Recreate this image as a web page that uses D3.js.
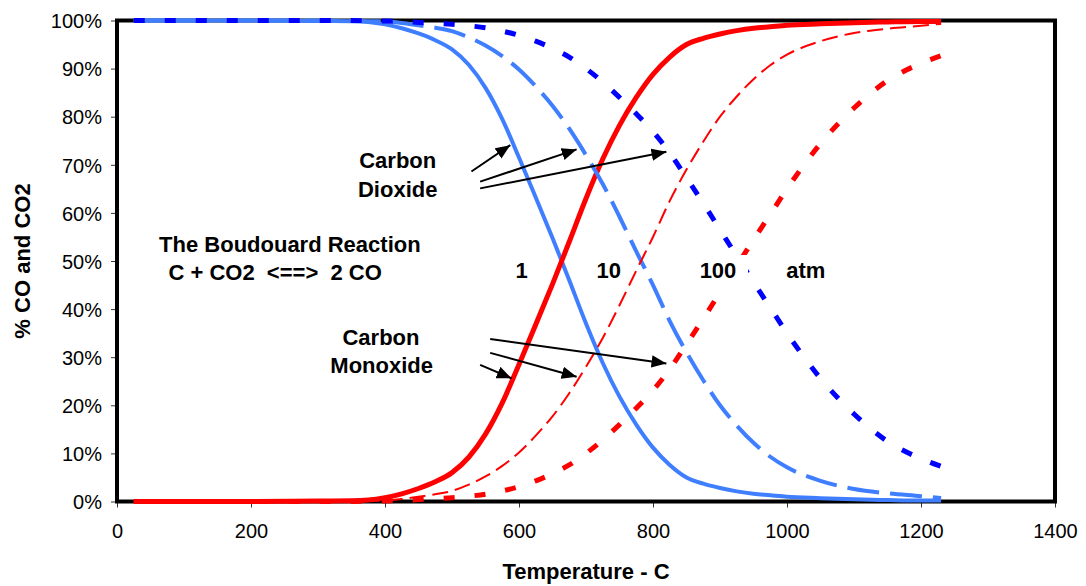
<!DOCTYPE html>
<html>
<head>
<meta charset="utf-8">
<script src="https://cdn.jsdelivr.net/npm/d3@7"></script>
<style>
  html, body { margin: 0; padding: 0; background: #fff; }
  svg { display: block; font-family: "Liberation Sans", Arial, sans-serif; }
</style>
</head>
<body>
<svg id="chart" width="1086" height="586"></svg>
<script>
// Temperature grid (deg C) shared by every series
const temperatures = [25, 100, 200, 300, 350, 375, 400, 425, 450, 475, 500, 525, 550, 575,
                      600, 625, 650, 675, 700, 725, 750, 775, 800, 825, 850, 875, 900, 925,
                      950, 975, 1000, 1050, 1100, 1150, 1200, 1230];

// Equilibrium gas composition (%) at 1, 10 and 100 atm
const co2At1   = [100, 100, 100, 99.9, 99.85, 99.7, 99.2, 98.4, 97.3, 95.9, 94.0, 90.8, 86.0, 79.5,
                  71.5, 63.2, 54.8, 46.0, 37.0, 28.8, 21.8, 16.0, 11.2, 7.6, 5.0, 3.7, 2.8, 2.1,
                  1.6, 1.3, 1.0, 0.7, 0.45, 0.3, 0.2, 0.2];
const coAt1    = [0, 0, 0, 0.1, 0.15, 0.3, 0.8, 1.6, 2.7, 4.1, 6.0, 9.2, 14.0, 20.5,
                  28.5, 36.8, 45.2, 54.0, 63.0, 71.2, 78.2, 84.0, 88.8, 92.4, 95.0, 96.3, 97.2, 97.9,
                  98.4, 98.7, 99.0, 99.3, 99.55, 99.7, 99.8, 99.8];
const co2At10  = [100, 100, 100, 100, 99.9, 99.85, 99.8, 99.5, 99.0, 98.5, 97.8, 96.5, 94.8, 92.6,
                  89.8, 86.3, 82.3, 77.5, 72.0, 66.0, 59.2, 52.0, 45.0, 37.5, 31.0, 25.2, 20.0, 15.8,
                  12.2, 9.3, 7.1, 4.3, 2.6, 1.7, 1.1, 0.7];
const coAt10   = [0, 0, 0, 0, 0.1, 0.15, 0.2, 0.5, 1.0, 1.5, 2.2, 3.5, 5.2, 7.4,
                  10.2, 13.7, 17.7, 22.5, 28.0, 34.0, 40.8, 48.0, 55.0, 62.5, 69.0, 74.8, 80.0, 84.2,
                  87.8, 90.7, 92.9, 95.7, 97.4, 98.3, 98.9, 99.3];
const co2At100 = [100, 100, 100, 100, 100, 99.95, 99.9, 99.8, 99.6, 99.4, 99.2, 98.9, 98.5, 97.8,
                  96.9, 95.7, 94.2, 92.4, 90.0, 87.2, 84.0, 80.6, 76.9, 72.5, 67.3, 62.0, 56.5, 51.0,
                  45.6, 40.3, 35.0, 25.6, 18.2, 12.5, 8.9, 7.3];
const coAt100  = [0, 0, 0, 0, 0, 0.05, 0.1, 0.2, 0.4, 0.6, 0.8, 1.1, 1.5, 2.2,
                  3.1, 4.3, 5.8, 7.6, 10.0, 12.8, 16.0, 19.4, 23.1, 27.5, 32.7, 38.0, 43.5, 49.0,
                  54.4, 59.7, 65.0, 74.4, 81.8, 87.5, 91.1, 92.7];

const xTicks = [0, 200, 400, 600, 800, 1000, 1200, 1400];
const yTicks = [0, 10, 20, 30, 40, 50, 60, 70, 80, 90, 100];

const xTitle = "Temperature - C";
const yTitle = "% CO and CO2";

// Draw order and styling for each curve
const seriesList = [
  { name: "CO2 1 atm",   values: co2At1,   color: "#3f7fff", width: 4,   dash: null },
  { name: "CO 1 atm",    values: coAt1,    color: "#ff0000", width: 5,   dash: null },
  { name: "CO2 10 atm",  values: co2At10,  color: "#3f7fff", width: 4,   dash: "32 11" },
  { name: "CO 10 atm",   values: coAt10,   color: "#ff0000", width: 2,   dash: "16 7" },
  { name: "CO2 100 atm", values: co2At100, color: "#0000ff", width: 5,   dash: "11 20" },
  { name: "CO 100 atm",  values: coAt100,  color: "#ff0000", width: 5,   dash: "11 20" }
];

// Text annotations placed in data units (temperature, fraction)
const notes = [
  { text: "Carbon",                  t: 419, p: 0.693 },
  { text: "Dioxide",                 t: 419, p: 0.634 },
  { text: "The Boudouard Reaction",  t: 258, p: 0.519 },
  { text: "C + CO2  <==>  2 CO",     t: 236, p: 0.4605 },
  { text: "1",                       t: 604, p: 0.4647 },
  { text: "10",                      t: 734, p: 0.4647 },
  { text: "100",                     t: 897, p: 0.4647, boxed: true },
  { text: "atm",                     t: 1028, p: 0.4647 },
  { text: "Carbon",                  t: 394, p: 0.3254 },
  { text: "Monoxide",                t: 395, p: 0.2678 }
];

// Pointer arrows from the labels to the curves
const arrows = [
  { t0: 529, p0: 0.686, t1: 587, p1: 0.741 },
  { t0: 542, p0: 0.665, t1: 686, p1: 0.732 },
  { t0: 542, p0: 0.651, t1: 820, p1: 0.727 },
  { t0: 542, p0: 0.284, t1: 589, p1: 0.256 },
  { t0: 557, p0: 0.309, t1: 686, p1: 0.2595 },
  { t0: 557, p0: 0.338, t1: 820, p1: 0.287 }
];

const svg = d3.select("#chart");
const plot = { left: 117, right: 1055, top: 20.5, bottom: 501.5 };

const x = d3.scaleLinear().domain([0, 1400]).range([plot.left, plot.right]);
const y = d3.scaleLinear().domain([0, 1]).range([plot.bottom, plot.top]);

// Axes
const xAxis = d3.axisBottom(x).tickValues(xTicks).tickSize(6).tickSizeOuter(0).tickPadding(16)
  .tickFormat(d3.format("d"));
const yAxis = d3.axisLeft(y).tickValues(yTicks.map(v => v / 100)).tickSize(6).tickSizeOuter(0)
  .tickPadding(9).tickFormat(d3.format(".0%"));

const gx = svg.append("g").attr("transform", `translate(0,${plot.bottom})`).call(xAxis);
const gy = svg.append("g").attr("transform", `translate(${plot.left},0)`).call(yAxis);
[gx, gy].forEach(g => {
  g.select(".domain").remove();
  g.selectAll(".tick line").attr("stroke", "#333").attr("stroke-width", 1);
  g.selectAll(".tick text").attr("fill", "#000").style("font-size", "20px")
    .style("font-family", "'Liberation Sans', Arial, sans-serif");
});
gy.selectAll(".tick text").attr("dy", "0.36em");

// Plot frame
svg.append("rect")
  .attr("x", plot.left).attr("y", plot.top)
  .attr("width", plot.right - plot.left).attr("height", plot.bottom - plot.top)
  .attr("fill", "none").attr("stroke", "#000").attr("stroke-width", 4);

// Curves
const line = d3.line()
  .x((d, i) => x(temperatures[i]))
  .y(d => y(d / 100))
  .curve(d3.curveMonotoneX);

svg.append("g").selectAll("path").data(seriesList).join("path")
  .attr("d", s => line(s.values))
  .attr("fill", "none")
  .attr("stroke", s => s.color)
  .attr("stroke-width", s => s.width)
  .attr("stroke-dasharray", s => s.dash)
  .attr("stroke-linejoin", "round");

// Arrow head marker
svg.append("defs").append("marker")
  .attr("id", "head").attr("viewBox", "0 0 12 10")
  .attr("refX", 12).attr("refY", 5)
  .attr("markerWidth", 7.5).attr("markerHeight", 6.2)
  .attr("markerUnits", "strokeWidth").attr("orient", "auto")
  .append("path").attr("d", "M0,0 L12,5 L0,10 Z").attr("fill", "#000");

svg.append("g").selectAll("line").data(arrows).join("line")
  .attr("x1", a => x(a.t0)).attr("y1", a => y(a.p0))
  .attr("x2", a => x(a.t1)).attr("y2", a => y(a.p1))
  .attr("stroke", "#000").attr("stroke-width", 2)
  .attr("marker-end", "url(#head)");

// Annotation text
const noteG = svg.append("g");
notes.forEach(n => {
  if (n.boxed) {
    noteG.append("rect")
      .attr("x", x(n.t) - 22).attr("y", y(n.p) - 23)
      .attr("width", 52).attr("height", 35).attr("fill", "#fff");
  }
  noteG.append("text")
    .attr("x", x(n.t)).attr("y", y(n.p))
    .attr("text-anchor", "middle")
    .style("white-space", "pre")
    .style("font-size", "22px").style("font-weight", "bold")
    .text(n.text);
});

// Axis titles
svg.append("text")
  .attr("x", (plot.left + plot.right) / 2).attr("y", 579)
  .attr("text-anchor", "middle").style("font-size", "22px").style("font-weight", "bold")
  .text(xTitle);
svg.append("text")
  .attr("transform", `translate(30,${(plot.top + plot.bottom) / 2}) rotate(-90)`)
  .attr("text-anchor", "middle").style("font-size", "22px").style("font-weight", "bold")
  .text(yTitle);
</script>
</body>
</html>
